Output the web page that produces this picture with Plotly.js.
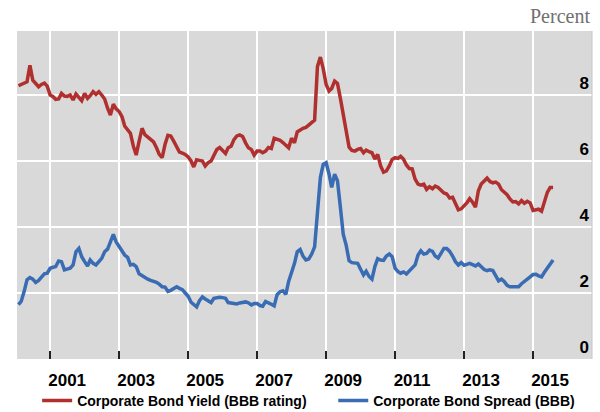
<!DOCTYPE html>
<html>
<head>
<meta charset="utf-8">
<script src="https://cdn.plot.ly/plotly-3.0.1.min.js"></script>
<style>html,body{margin:0;padding:0;background:#fff;}#chart{width:600px;height:412px;}</style>
</head>
<body>
<div id="chart"></div>
<script>
// Monthly observations, Feb 2000 .. Aug 2015
const startYear = 2000, startMonth = 2;
const yieldBBB = [
  // 2000 (Feb-Dec)
  8.28, 8.32, 8.38, 8.40, 8.90, 8.45, 8.35, 8.25, 8.32, 8.36, 8.27,
  // 2001
  8.00, 7.95, 7.87, 7.88, 8.05, 7.97, 7.96, 8.00, 7.85, 8.03, 7.92, 7.83,
  // 2002
  8.05, 7.90, 7.98, 8.10, 8.02, 8.10, 8.00, 7.88, 7.60, 7.39, 7.72, 7.58,
  // 2003
  7.50, 7.34, 7.06, 6.95, 6.84, 6.45, 6.18, 6.60, 6.99, 6.80, 6.72, 6.65,
  // 2004
  6.58, 6.40, 6.20, 6.10, 6.50, 6.78, 6.76, 6.60, 6.45, 6.27, 6.24, 6.20,
  // 2005
  6.12, 6.00, 5.82, 6.04, 6.02, 6.00, 5.85, 5.95, 6.00, 6.15, 6.35, 6.41,
  // 2006
  6.32, 6.23, 6.40, 6.45, 6.65, 6.76, 6.79, 6.74, 6.55, 6.40, 6.35, 6.18,
  // 2007
  6.30, 6.30, 6.25, 6.30, 6.41, 6.38, 6.69, 6.67, 6.63, 6.56, 6.48, 6.40,
  // 2008
  6.69, 6.55, 6.88, 6.94, 6.99, 7.02, 7.10, 7.18, 7.24, 8.86, 9.15, 8.80,
  // 2009
  8.32, 8.12, 8.20, 8.42, 8.35, 7.90, 7.40, 6.98, 6.42, 6.32, 6.30, 6.35,
  // 2010
  6.38, 6.25, 6.33, 6.28, 6.25, 6.06, 6.20, 5.85, 5.66, 5.70, 5.85, 6.05,
  // 2011
  6.10, 6.08, 6.14, 6.05, 5.88, 5.77, 5.76, 5.45, 5.30, 5.27, 5.30, 5.14,
  // 2012
  5.22, 5.16, 5.24, 5.20, 5.12, 5.03, 5.00, 4.88, 4.90, 4.70, 4.52, 4.55,
  // 2013
  4.64, 4.74, 4.86, 4.75, 4.60, 5.10, 5.30, 5.40, 5.48, 5.38, 5.34, 5.36,
  // 2014
  5.30, 5.13, 5.05, 4.98, 4.85, 4.76, 4.77, 4.70, 4.80, 4.72, 4.78, 4.73,
  // 2015 (Jan-Aug)
  4.50, 4.52, 4.54, 4.48, 4.80, 5.05, 5.20, 5.20
];
const spreadBBB = [
  // 2000 (Feb-Dec)
  1.65, 1.75, 2.05, 2.40, 2.47, 2.42, 2.32, 2.38, 2.48, 2.58, 2.60,
  // 2001
  2.75, 2.78, 2.80, 2.97, 2.95, 2.70, 2.72, 2.75, 2.85, 3.25, 3.35, 3.10,
  // 2002
  2.95, 2.82, 3.00, 2.90, 2.85, 2.95, 3.05, 3.25, 3.33, 3.55, 3.78, 3.55,
  // 2003
  3.42, 3.28, 3.15, 3.08, 2.85, 2.87, 2.80, 2.58, 2.52, 2.46, 2.42, 2.38,
  // 2004
  2.36, 2.32, 2.27, 2.19, 2.18, 2.05, 2.08, 2.15, 2.19, 2.14, 2.10, 2.00,
  // 2005
  1.90, 1.72, 1.65, 1.58, 1.77, 1.88, 1.82, 1.75, 1.71, 1.84, 1.86, 1.87,
  // 2006
  1.86, 1.84, 1.71, 1.70, 1.68, 1.67, 1.70, 1.71, 1.73, 1.70, 1.64, 1.68,
  // 2007
  1.68, 1.62, 1.60, 1.74, 1.71, 1.66, 1.61, 1.95, 2.04, 2.07, 1.96, 2.35,
  // 2008
  2.62, 2.90, 3.25, 3.32, 3.12, 3.00, 3.03, 3.18, 3.40, 4.30, 5.50, 5.90,
  // 2009
  5.95, 5.60, 5.20, 5.60, 5.40, 4.60, 3.78, 3.45, 2.98, 2.92, 2.92, 2.90,
  // 2010
  2.72, 2.55, 2.66, 2.50, 2.42, 2.80, 3.04, 3.00, 2.99, 3.12, 3.18, 3.10,
  // 2011
  2.75, 2.65, 2.60, 2.64, 2.58, 2.68, 2.78, 2.85, 3.15, 3.28, 3.18, 3.20,
  // 2012
  3.30, 3.26, 3.12, 3.06, 3.20, 3.35, 3.35, 3.26, 3.12, 2.95, 2.85, 2.92,
  // 2013
  2.84, 2.87, 2.90, 2.86, 2.82, 2.88, 2.80, 2.71, 2.68, 2.70, 2.68, 2.55,
  // 2014
  2.37, 2.42, 2.35, 2.23, 2.19, 2.19, 2.19, 2.19, 2.28, 2.34, 2.42, 2.49,
  // 2015 (Jan-Aug)
  2.56, 2.57, 2.52, 2.49, 2.63, 2.76, 2.87, 3.00
];
const seriesNames = ['Corporate Bond Yield (BBB rating)', 'Corporate Bond Spread (BBB)'];
const yearTicks = ['2001', '2003', '2005', '2007', '2009', '2011', '2013', '2015'];
const yTicks = [0, 2, 4, 6, 8];
const unitLabel = 'Percent';

function monthDates(n) {
  const out = [];
  for (let i = 0; i < n; i++) {
    const t = (startMonth - 1) + i;
    const y = startYear + Math.floor(t / 12);
    const m = (t % 12) + 1;
    out.push(y + '-' + String(m).padStart(2, '0') + '-01');
  }
  return out;
}
const dates = monthDates(yieldBBB.length);

const FONT = 'Arial, "Liberation Sans", sans-serif';
const legendFont = { family: FONT, size: 14, color: '#000', weight: 'bold' };

const traces = [
  { x: dates, y: yieldBBB, name: seriesNames[0], type: 'scatter', mode: 'lines',
    line: { color: '#b0302f', width: 3.5 }, legend: 'legend' },
  { x: dates, y: spreadBBB, name: seriesNames[1], type: 'scatter', mode: 'lines',
    line: { color: '#3a6cb4', width: 3.5 }, legend: 'legend2' }
];

const layout = {
  width: 600, height: 412,
  margin: { l: 17, r: 8, t: 31, b: 53, autoexpand: false },
  paper_bgcolor: '#ffffff',
  plot_bgcolor: '#d9d9d9',
  showlegend: true,
  font: { family: FONT, color: '#000' },
  xaxis: {
    type: 'date',
    range: ['2000-01-16', '2016-09-16'],
    tickvals: yearTicks.map(y => y + '-01-01'),
    ticktext: yearTicks,
    ticklabelshift: 17,
    ticklabelstandoff: 9,
    tickfont: { family: FONT, size: 17, color: '#000', weight: 'bold' },
    showgrid: true, gridcolor: '#ffffff', gridwidth: 1.5,
    ticks: 'inside', ticklen: 8, tickwidth: 1.5, tickcolor: '#222',
    showline: false, zeroline: false, fixedrange: true, automargin: false
  },
  yaxis: {
    side: 'left',
    anchor: 'free',
    position: 0.9948,
    range: [0, 9.94],
    tickvals: yTicks,
    ticktext: yTicks.map(String),
    ticklabelposition: 'outside',
    ticklabelshift: -12,
    tickfont: { family: FONT, size: 17, color: '#000', weight: 'bold' },
    showgrid: true, gridcolor: '#ffffff', gridwidth: 1.5,
    ticks: '', showline: false,
    zeroline: false, fixedrange: true, automargin: false
  },
  legend: {
    orientation: 'h',
    x: 0.035, xanchor: 'left',
    y: -0.128, yanchor: 'middle',
    font: legendFont,
    bgcolor: 'rgba(0,0,0,0)'
  },
  legend2: {
    orientation: 'h',
    x: 0.550, xanchor: 'left',
    y: -0.128, yanchor: 'middle',
    font: legendFont,
    bgcolor: 'rgba(0,0,0,0)'
  },
  shapes: [{
    type: 'line', xref: 'paper', yref: 'paper', x0: 1, x1: 1, y0: 0, y1: 1,
    line: { color: '#c4c4c4', width: 1 }, layer: 'above'
  }],
  annotations: [{
    text: unitLabel, xref: 'paper', yref: 'paper', x: 1, y: 1,
    xanchor: 'right', yanchor: 'bottom', yshift: 2, showarrow: false,
    font: { family: '"Liberation Serif", "Times New Roman", serif', size: 20, color: '#707070' }
  }]
};

Plotly.newPlot('chart', traces, layout, { displayModeBar: false, staticPlot: true });
</script>
</body>
</html>
